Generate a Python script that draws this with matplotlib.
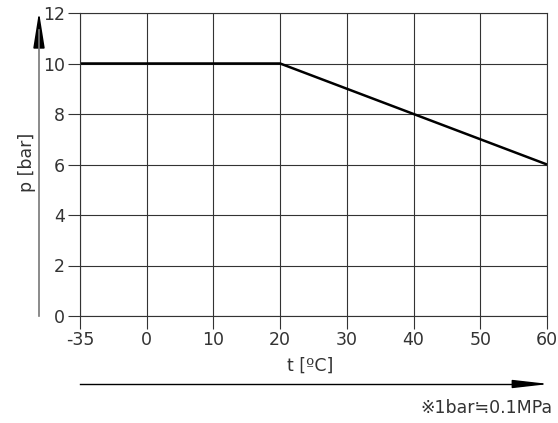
import matplotlib
matplotlib.use('Agg')
import matplotlib.pyplot as plt

plt.rcParams['font.family'] = ['DejaVu Sans', 'Noto Sans CJK JP']

# x axis is categorical: ticks evenly spaced
t_labels = ['-35', '0', '10', '20', '30', '40', '50', '60']
y_ticks = [0, 2, 4, 6, 8, 10, 12]

# pressure curve (t, p)
curve_t = ['-35', '20', '60']
curve_p = [10, 10, 6]

W, H = 558, 423
fig = plt.figure(figsize=(W / 100, H / 100), dpi=100)
ax = fig.add_axes([80 / W, 1 - 316 / H, (547 - 80) / W, (316 - 13) / H])

pos = {lab: i for i, lab in enumerate(t_labels)}
ax.plot([pos[t] for t in curve_t], curve_p, color='black', lw=1.8, solid_capstyle='butt')

ax.set_xlim(0, len(t_labels) - 1)
ax.set_ylim(0, 12)
ax.set_xticks(range(len(t_labels)))
ax.set_xticklabels(t_labels)
ax.set_yticks(y_ticks)
ax.grid(True, color='#333333', lw=0.8)
for s in ax.spines.values():
    s.set_color('#333333')
    s.set_linewidth(0.8)
ax.tick_params(direction='out', length=9, width=0.8, color='#333333',
               labelsize=12.5, labelcolor='#333333', pad=2)

# y-axis arrow and label
fig.add_artist(plt.Line2D([39 / W, 39 / W], [1 - 316 / H, 1 - 30 / H],
                          transform=fig.transFigure, color='#777777', lw=1.2))
ax.annotate('', xy=(39, H - 12), xycoords='figure pixels',
            xytext=(39, H - 38), textcoords='figure pixels',
            arrowprops=dict(arrowstyle='-|>,head_length=2.2,head_width=0.35',
                            color='black', lw=1.2, shrinkA=0, shrinkB=0))
fig.text(27 / W, 1 - 162 / H, 'p [bar]', rotation=90, ha='center', va='center',
         fontsize=12.5, color='#333333')

# x-axis arrow and label
fig.add_artist(plt.Line2D([80 / W, 530 / W], [1 - 384 / H, 1 - 384 / H],
                          transform=fig.transFigure, color='black', lw=1.0))
ax.annotate('', xy=(549, H - 384), xycoords='figure pixels',
            xytext=(522, H - 384), textcoords='figure pixels',
            arrowprops=dict(arrowstyle='-|>,head_length=2.2,head_width=0.25',
                            color='black', lw=1.0, shrinkA=0, shrinkB=0))
fig.text(310 / W, 1 - 366 / H, 't [ºC]', ha='center', va='center',
         fontsize=12.5, color='#333333')

fig.text(553 / W, 1 - 408 / H, '※1bar≒0.1MPa', ha='right', va='center',
         fontsize=12.5, color='#333333')

fig.savefig('out.png', dpi=100)
